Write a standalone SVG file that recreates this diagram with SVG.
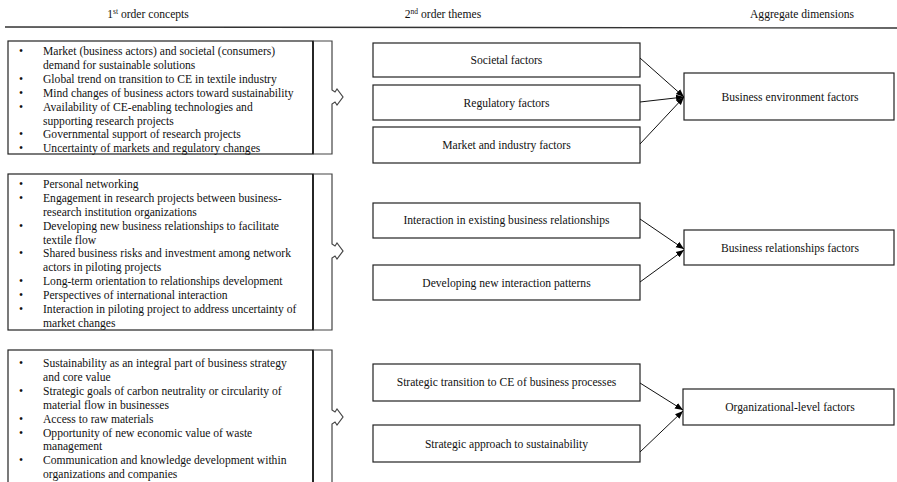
<svg xmlns="http://www.w3.org/2000/svg" width="897" height="482" viewBox="0 0 897 482">
<style>
text{font-family:"Liberation Serif","Times New Roman",serif;fill:#111;}
.h{font-size:11.6px;text-anchor:middle;}
.b{font-size:11.6px;}
.bl{font-size:11.6px;text-anchor:middle;}
.c{font-size:11.6px;text-anchor:middle;}
.box{fill:#fff;stroke:#222;stroke-width:1.2;}
.inner{stroke:#111;stroke-width:1.6;fill:none;}
.brk{fill:none;stroke:#444;stroke-width:1.2;}
.con{stroke:#111;stroke-width:1;fill:none;marker-end:url(#ah);}
</style>
<defs>
<marker id="ah" viewBox="0 0 10 10" refX="10" refY="5" markerWidth="8" markerHeight="8" markerUnits="userSpaceOnUse" orient="auto">
<path d="M0,1 L10,5 L0,9 Z" fill="#000"/>
</marker>
</defs>
<rect width="897" height="482" fill="#fff"/>

<g id="headers">
<text class="h" x="148" y="18">1<tspan font-size="7.5" dy="-4">st</tspan><tspan dy="4"> order concepts</tspan></text>
<text class="h" x="443" y="18">2<tspan font-size="7.5" dy="-4">nd</tspan><tspan dy="4"> order themes</tspan></text>
<text class="h" x="802" y="18">Aggregate dimensions</text>
<line x1="5" y1="27" x2="897" y2="28" stroke="#333" stroke-width="1.4"/>
</g>

<g id="concepts1">
<rect class="box" x="8" y="41" width="305" height="113"/>
<line class="inner" x1="313" y1="41" x2="313" y2="154"/>
<path class="brk" d="M313,41 H332 V90 L335,92 L337,89 L343,97 L337,105 L335,102 L332,104 V154 H313"/>
<text class="bl" x="21" y="55">•</text><text class="b" x="43" y="55">Market (business actors) and societal (consumers)</text>
<text class="b" x="43" y="68.9">demand for sustainable solutions</text>
<text class="bl" x="21" y="82.8">•</text><text class="b" x="43" y="82.8">Global trend on transition to CE in textile industry</text>
<text class="bl" x="21" y="96.7">•</text><text class="b" x="43" y="96.7">Mind changes of business actors toward sustainability</text>
<text class="bl" x="21" y="110.6">•</text><text class="b" x="43" y="110.6">Availability of CE-enabling technologies and</text>
<text class="b" x="43" y="124.5">supporting research projects</text>
<text class="bl" x="21" y="138.4">•</text><text class="b" x="43" y="138.4">Governmental support of research projects</text>
<text class="bl" x="21" y="152.3">•</text><text class="b" x="43" y="152.3">Uncertainty of markets and regulatory changes</text>
</g>

<g id="concepts2">
<rect class="box" x="8" y="174" width="305" height="156"/>
<line class="inner" x1="313" y1="174" x2="313" y2="330"/>
<path class="brk" d="M313,174 H332 V244 L335,246 L337,243 L343,251 L337,259 L335,256 L332,258 V330 H313"/>
<text class="bl" x="21" y="188">•</text><text class="b" x="43" y="188">Personal networking</text>
<text class="bl" x="21" y="201.9">•</text><text class="b" x="43" y="201.9">Engagement in research projects between business-</text>
<text class="b" x="43" y="215.7">research institution organizations</text>
<text class="bl" x="21" y="229.6">•</text><text class="b" x="43" y="229.6">Developing new business relationships to facilitate</text>
<text class="b" x="43" y="243.5">textile flow</text>
<text class="bl" x="21" y="257.4">•</text><text class="b" x="43" y="257.4">Shared business risks and investment among network</text>
<text class="b" x="43" y="271.2">actors in piloting projects</text>
<text class="bl" x="21" y="285.1">•</text><text class="b" x="43" y="285.1">Long-term orientation to relationships development</text>
<text class="bl" x="21" y="299">•</text><text class="b" x="43" y="299">Perspectives of international interaction</text>
<text class="bl" x="21" y="312.8">•</text><text class="b" x="43" y="312.8">Interaction in piloting project to address uncertainty of</text>
<text class="b" x="43" y="326.7">market changes</text>
</g>

<g id="concepts3">
<rect class="box" x="8" y="350" width="305" height="140"/>
<line class="inner" x1="313" y1="350" x2="313" y2="490"/>
<path class="brk" d="M313,350 H332 V410 L335,412 L337,409 L343,417 L337,425 L335,422 L332,424 V490"/>
<text class="bl" x="21" y="367.3">•</text><text class="b" x="43" y="367.3">Sustainability as an integral part of business strategy</text>
<text class="b" x="43" y="381.2">and core value</text>
<text class="bl" x="21" y="395">•</text><text class="b" x="43" y="395">Strategic goals of carbon neutrality or circularity of</text>
<text class="b" x="43" y="408.9">material flow in businesses</text>
<text class="bl" x="21" y="422.7">•</text><text class="b" x="43" y="422.7">Access to raw materials</text>
<text class="bl" x="21" y="436.6">•</text><text class="b" x="43" y="436.6">Opportunity of new economic value of waste</text>
<text class="b" x="43" y="450.4">management</text>
<text class="bl" x="21" y="464.3">•</text><text class="b" x="43" y="464.3">Communication and knowledge development within</text>
<text class="b" x="43" y="478.1">organizations and companies</text>
</g>

<g id="societal"><rect class="box" x="373" y="43" width="267" height="34"/><text class="c" x="506.5" y="64">Societal factors</text></g>
<g id="regulatory"><rect class="box" x="373" y="85" width="267" height="35"/><text class="c" x="506.5" y="106.5">Regulatory factors</text></g>
<g id="market"><rect class="box" x="373" y="127" width="267" height="36"/><text class="c" x="506.5" y="149">Market and industry factors</text></g>
<g id="existing"><rect class="box" x="373" y="203" width="267" height="35"/><text class="c" x="506.5" y="224">Interaction in existing business relationships</text></g>
<g id="newpatterns"><rect class="box" x="373" y="265" width="267" height="35"/><text class="c" x="506.5" y="286.5">Developing new interaction patterns</text></g>
<g id="transition"><rect class="box" x="373" y="364" width="267" height="37"/><text class="c" x="506.5" y="386">Strategic transition to CE of business processes</text></g>
<g id="approach"><rect class="box" x="373" y="425" width="267" height="37"/><text class="c" x="506.5" y="447.5">Strategic approach to sustainability</text></g>

<g id="busenv"><rect class="box" x="684" y="73" width="210" height="47"/><text class="c" x="790" y="101">Business environment factors</text></g>
<g id="busrel"><rect class="box" x="684" y="230" width="210" height="35"/><text class="c" x="790" y="251.5">Business relationships factors</text></g>
<g id="org"><rect class="box" x="683" y="389" width="211" height="36"/><text class="c" x="790" y="411">Organizational-level factors</text></g>

<g id="connectors">
<line class="con" x1="640" y1="58" x2="684" y2="97"/>
<line class="con" x1="640" y1="102" x2="684" y2="97"/>
<line class="con" x1="640" y1="144" x2="684" y2="97"/>
<line class="con" x1="640" y1="219" x2="684" y2="249"/>
<line class="con" x1="640" y1="282" x2="684" y2="250"/>
<line class="con" x1="640" y1="383" x2="683" y2="410"/>
<line class="con" x1="640" y1="452" x2="683" y2="411"/>
</g>
</svg>
